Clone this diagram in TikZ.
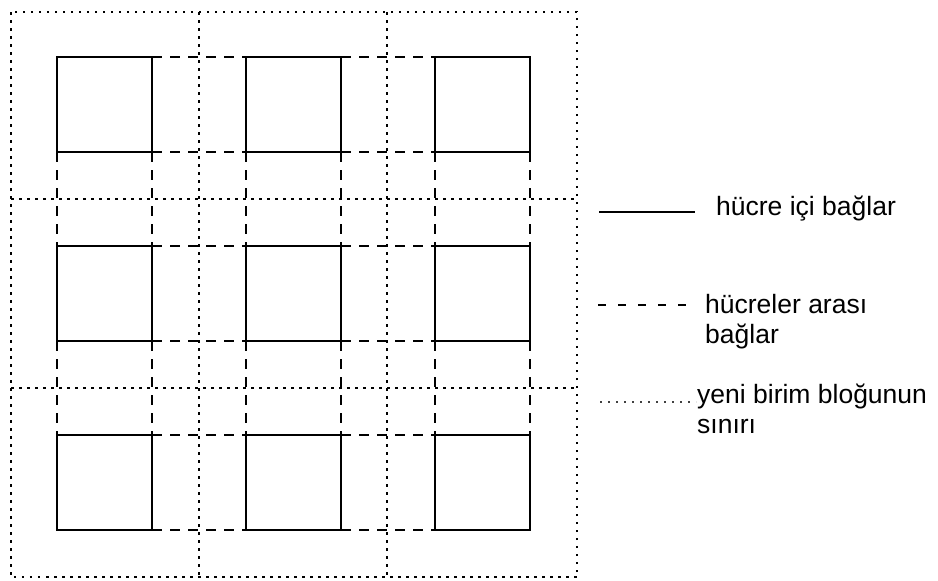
\documentclass[tikz,border=0pt]{standalone}
\usepackage{fontspec}
\setmainfont{Liberation Sans}
\begin{document}
\begin{tikzpicture}[x=1pt,y=-1pt,
  cell/.style={draw, line width=1.9pt, minimum size=95pt, inner sep=0pt, outer sep=0pt},
  link/.style={line width=1.9pt, dash pattern=on 10pt off 8pt},
  block/.style={line width=2.5pt, dash pattern=on 2.5pt off 5.5pt},
  legtext/.style={anchor=base west, inner sep=0pt, font=\fontsize{26.5}{30}\selectfont},
  legline/.style={line width=1.9pt}]
\useasboundingbox (0,0) rectangle (938,581);
% unit block boundaries
\draw[block] (11,12) rectangle (577,577);
\draw[block] (199,12) -- (199,577);
\draw[block] (387,12) -- (387,577);
\draw[block] (11,199) -- (577,199);
\draw[block] (11,388) -- (577,388);
% cells
\foreach \r/\yy in {1/104.5,2/293.5,3/482.5}{
  \foreach \c/\xx in {1/104.5,2/293.5,3/482.5}{
    \node[cell] (s\r\c) at (\xx,\yy) {};
  }
}
% horizontal links between cells
\foreach \r in {1,2,3}{
  \foreach \c/\n in {1/2,2/3}{
    \draw[link] (s\r\c.north east) -- (s\r\n.north west);
    \draw[link] (s\r\c.south east) -- (s\r\n.south west);
  }
}
% vertical links between cells
\foreach \c in {1,2,3}{
  \foreach \r/\n in {1/2,2/3}{
    \draw[link] (s\r\c.south west) -- (s\n\c.north west);
    \draw[link] (s\r\c.south east) -- (s\n\c.north east);
  }
}
% legend
\coordinate (l1a) at (599,212);
\coordinate (l1b) at (695,212);
\draw[legline] (l1a) -- (l1b);
\node[legtext] (t1) at (716,215) {hücre içi bağlar};
\coordinate (l2a) at (598,305);
\coordinate (l2b) at (686,305);
\draw[line width=1.6pt, dash pattern=on 8pt off 12pt] (l2a) -- (l2b);
\node[legtext] (t2a) at (705,313.5) {hücreler arası};
\node[legtext] (t2b) at (705,343.5) {bağlar};
\coordinate (l3a) at (600,402);
\coordinate (l3b) at (696,402);
\draw[line width=1.6pt, dash pattern=on 1.6pt off 6.4pt, black!75] (l3a) -- (l3b);
\node[legtext] (t3a) at (697,403.5) {yeni birim bloğunun};
\node[legtext] (t3b) at (697,433) {sınırı};
\end{tikzpicture}
\end{document}
